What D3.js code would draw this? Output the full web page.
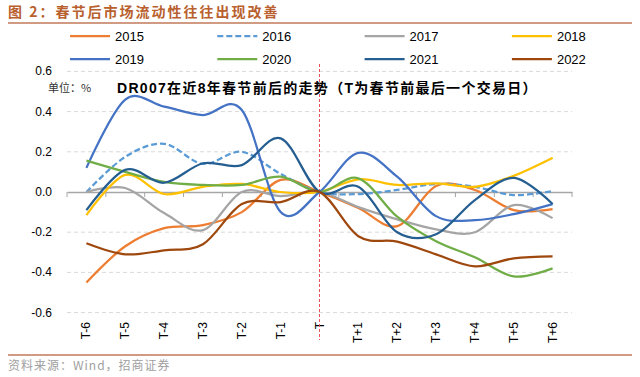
<!DOCTYPE html>
<html>
<head>
<meta charset="utf-8">
<script src="https://cdn.jsdelivr.net/npm/d3@7"></script>
<style>
  body { margin: 0; background: #fff; }
  svg { display: block; }
  text { font-family: "Liberation Sans", Arial, "Noto Sans CJK SC", sans-serif; }
  .cjk { font-family: "Noto Sans CJK SC", sans-serif; }
</style>
</head>
<body>
<div id="chart"></div>
<script>
// x categories
var days = ["T-6", "T-5", "T-4", "T-3", "T-2", "T-1", "T", "T+1", "T+2", "T+3", "T+4", "T+5", "T+6"];
var yTicks = [0.6, 0.4, 0.2, 0.0, -0.2, -0.4, -0.6];

// DR007 change vs T, %
var y2015 = [-0.45, -0.27, -0.18, -0.165, -0.10, 0.06, 0, -0.08, -0.17, 0.03, 0.01, -0.09, -0.085];
var y2016 = [0.0, 0.175, 0.24, 0.14, 0.20, 0.09, 0, -0.01, 0.01, 0.04, 0.026, -0.015, 0.005];
var y2017 = [0.0, 0.02, -0.105, -0.19, 0.0, -0.02, 0, -0.075, -0.136, -0.186, -0.2, -0.065, -0.13];
var y2018 = [-0.115, 0.085, -0.01, 0.026, 0.04, 0.0, 0, 0.063, 0.035, 0.043, 0.026, 0.08, 0.17];
var y2019 = [0.12, 0.46, 0.425, 0.383, 0.408, -0.10, 0, 0.195, 0.076, -0.12, -0.14, -0.11, -0.06];
var y2020 = [0.156, 0.10, 0.05, 0.035, 0.035, 0.076, 0, 0.068, -0.123, -0.245, -0.325, -0.42, -0.38];
var y2021 = [-0.09, 0.11, 0.046, 0.143, 0.134, 0.267, 0, 0.026, -0.20, -0.21, -0.04, 0.07, -0.06];
var y2022 = [-0.255, -0.31, -0.29, -0.26, -0.06, -0.05, 0, -0.22, -0.247, -0.31, -0.37, -0.33, -0.32];

var years = ["2015", "2016", "2017", "2018", "2019", "2020", "2021", "2022"];
var values = [y2015, y2016, y2017, y2018, y2019, y2020, y2021, y2022];
var colors = ["#ED7D31", "#5B9BD5", "#A5A5A5", "#FFC000", "#4472C4", "#70AD47", "#255E91", "#9E480E"];

var width = 640, height = 377;

var svg = d3.select("#chart").append("svg")
    .attr("width", width)
    .attr("height", height);

// header
svg.append("text")
    .attr("class", "cjk")
    .attr("x", 8)
    .attr("y", 17)
    .attr("font-size", 14)
    .attr("font-weight", "bold")
    .attr("letter-spacing", 2)
    .attr("fill", "#B8602E")
    .text("图 2：春节后市场流动性往往出现改善");

svg.append("line")
    .attr("x1", 8).attr("x2", 632)
    .attr("y1", 23).attr("y2", 23)
    .attr("stroke", "#C07A58").attr("stroke-width", 1.5);

svg.append("line")
    .attr("x1", 8).attr("x2", 632)
    .attr("y1", 355).attr("y2", 355)
    .attr("stroke", "#C07A58").attr("stroke-width", 1.5);

svg.append("text")
    .attr("class", "cjk")
    .attr("x", 8)
    .attr("y", 370)
    .attr("font-size", 12)
    .attr("letter-spacing", 1)
    .attr("fill", "#a0a0a0")
    .text("资料来源：Wind，招商证券");

// scales
var xScale = d3.scaleBand()
    .domain(days)
    .range([67, 572]);

var yScale = d3.scaleLinear()
    .domain([-0.6, 0.6])
    .range([312.6, 71.4]);

// gridlines
svg.append("g").selectAll("line")
    .data(yTicks.filter(function(d) { return d != 0; }))
    .enter().append("line")
    .attr("x1", 67).attr("x2", 572)
    .attr("y1", function(d) { return yScale(d); })
    .attr("y2", function(d) { return yScale(d); })
    .attr("stroke", "#d9d9d9")
    .attr("stroke-dasharray", "4,3");

// y axis labels
svg.append("g").selectAll("text")
    .data(yTicks)
    .enter().append("text")
    .attr("x", 52)
    .attr("y", function(d) { return yScale(d) + 4; })
    .attr("text-anchor", "end")
    .attr("font-size", 12)
    .attr("fill", "#000")
    .text(function(d) { return d.toFixed(1); });

// zero axis with ticks at band edges
var xAxis = svg.append("g")
    .attr("transform", "translate(0," + yScale(0) + ")")
    .call(d3.axisBottom(xScale).tickSize(0).tickFormat(""));
xAxis.select(".domain").attr("stroke", "#a6a6a6").attr("stroke-width", 1.5);

svg.append("g").selectAll("line")
    .data(d3.range(days.length + 1))
    .enter().append("line")
    .attr("x1", function(i) { return 67 + i * xScale.step(); })
    .attr("x2", function(i) { return 67 + i * xScale.step(); })
    .attr("y1", yScale(0))
    .attr("y2", yScale(0) + 5)
    .attr("stroke", "#a6a6a6");

// x labels, rotated
svg.append("g").selectAll("text")
    .data(days)
    .enter().append("text")
    .attr("transform", function(d) {
      return "translate(" + (xScale(d) + xScale.bandwidth() / 2 + 4) + ",322) rotate(-90)";
    })
    .attr("text-anchor", "end")
    .attr("font-size", 12)
    .attr("fill", "#000")
    .text(function(d) { return d; });

// T marker line
svg.append("line")
    .attr("x1", xScale("T") + xScale.bandwidth() / 2)
    .attr("x2", xScale("T") + xScale.bandwidth() / 2)
    .attr("y1", 64).attr("y2", 340)
    .attr("stroke", "#F0505A")
    .attr("stroke-width", 1)
    .attr("stroke-dasharray", "3,2");

// titles inside plot
svg.append("text")
    .attr("class", "cjk")
    .attr("x", 48)
    .attr("y", 92)
    .attr("font-size", 11)
    .attr("fill", "#333")
    .text("单位：%");

svg.append("text")
    .attr("x", 117)
    .attr("y", 93)
    .attr("font-size", 14)
    .attr("font-weight", "bold")
    .attr("letter-spacing", 1.3)
    .attr("fill", "#000")
    .text("DR007在近8年春节前后的走势（T为春节前最后一个交易日）");

// lines
var line = d3.line()
    .x(function(d, i) { return xScale(days[i]) + xScale.bandwidth() / 2; })
    .y(function(d) { return yScale(d); })
    .curve(d3.curveCardinal.tension(0));

svg.append("g").selectAll("path")
    .data(values)
    .enter().append("path")
    .attr("d", function(d) { return line(d); })
    .attr("fill", "none")
    .attr("stroke", function(d, i) { return colors[i]; })
    .attr("stroke-width", 2.25)
    .attr("stroke-dasharray", function(d, i) { return years[i] == "2016" ? "6,3" : null; });

// legend
var legend = svg.append("g").selectAll("g")
    .data(years)
    .enter().append("g")
    .attr("transform", function(d, i) {
      return "translate(" + (70 + (i % 4) * 147.3) + "," + (i < 4 ? 36 : 59) + ")";
    });

legend.append("line")
    .attr("x1", 0).attr("x2", 40)
    .attr("stroke", function(d, i) { return colors[i]; })
    .attr("stroke-width", 2.25)
    .attr("stroke-dasharray", function(d) { return d == "2016" ? "6,3" : null; });

legend.append("text")
    .attr("x", 45)
    .attr("y", 5)
    .attr("font-size", 13)
    .attr("fill", "#000")
    .text(function(d) { return d; });
</script>
</body>
</html>
